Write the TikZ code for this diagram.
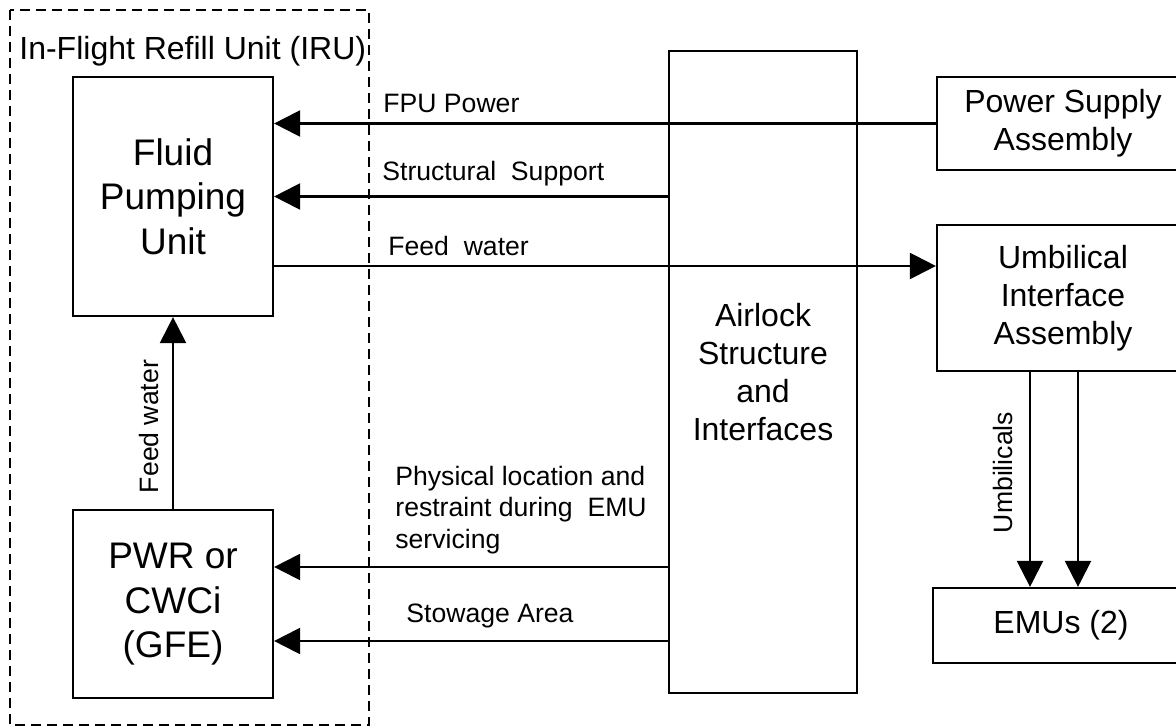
\documentclass[tikz,border=0pt]{standalone}
\usepackage{fontspec}
\setmainfont{Liberation Sans}
\usetikzlibrary{arrows.meta,positioning}

\begin{document}
\begin{tikzpicture}[
    x=0.5pt, y=-0.5pt,
    every node/.style={align=center, inner sep=0pt},
    box/.style={draw, line width=1.1pt, minimum width=100pt},
    bigtext/.style={font=\fontsize{18.5}{22.3}\selectfont},
    midtext/.style={font=\fontsize{16}{19}\selectfont},
    lbl/.style={font=\fontsize{13.3}{15.8}\selectfont, align=left, anchor=base west},
    arrow/.style={-{Triangle[length=13pt, width=13pt]}, line width=1.1pt}
]
    \useasboundingbox (0,0) rectangle (1176,727);
    \clip (0,0) rectangle (1176,727);

    % IRU frame
    \draw[dash pattern=on 5pt off 3pt, line width=1pt] (10,10) rectangle (369,725);
    \node[midtext, anchor=base west] (irulbl) at (19,60) {In-Flight Refill Unit (IRU)};

    \node[box, bigtext, minimum height=119.5pt] (fluid) at (173,196.5) {Fluid\\Pumping\\Unit};
    \node[box, bigtext, minimum height=94pt, below=96pt of fluid] (pwr) {PWR or\\CWCi\\(GFE)};
    \node[box, midtext, minimum width=94pt, minimum height=321pt] (airlock) at (763,372) {Airlock\\Structure\\and\\Interfaces};
    \node[box, midtext, minimum width=126pt, minimum height=46.5pt] (psa) at (1063,123.5) {Power Supply\\Assembly};
    \node[box, midtext, minimum width=126pt, minimum height=73pt, below=26.5pt of psa] (uia) {Umbilical\\Interface\\Assembly};
    \node[box, midtext, minimum width=128pt, minimum height=37.5pt] (emu) at (1061,625.5) {EMUs (2)};

    % connector levels
    \coordinate (fwy) at (0,266);
    \coordinate (phy) at (0,567);
    \coordinate (stow) at (0,641);
    \coordinate (u1) at (1030,0);
    \coordinate (u2) at (1078,0);

    \draw[arrow] (psa.west) -- (psa.west -| fluid.east);
    \draw[arrow] (airlock.west |- fluid) -- (fluid.east);
    \draw[arrow] (fluid.east |- fwy) -- (uia.west |- fwy);
    \draw[arrow] (pwr) -- (fluid);
    \draw[arrow] (airlock.west |- phy) -- (pwr.east |- phy);
    \draw[arrow] (airlock.west |- stow) -- (pwr.east |- stow);
    \draw[arrow] (u1 |- uia.south) -- (u1 |- emu.north);
    \draw[arrow] (u2 |- uia.south) -- (u2 |- emu.north);

    \node[lbl] (fpulbl) at (383,113) {FPU Power};
    \node[lbl] (sslbl) at (382,181) {Structural~~Support};
    \node[lbl] (fwlbl) at (388,256) {Feed~~water};
    \node[lbl, font=\fontsize{13.3}{15.75}\selectfont] (phylbl) at (395,548) {Physical location and\\restraint during~~EMU\\servicing};
    \node[lbl] (stowlbl) at (406,622) {Stowage Area};
    \node[lbl, rotate=90, anchor=base] (fwvlbl) at (158,426.5) {Feed water};
    \node[lbl, rotate=90, anchor=base] (umblbl) at (1012,472.5) {Umbilicals};
\end{tikzpicture}
\end{document}
